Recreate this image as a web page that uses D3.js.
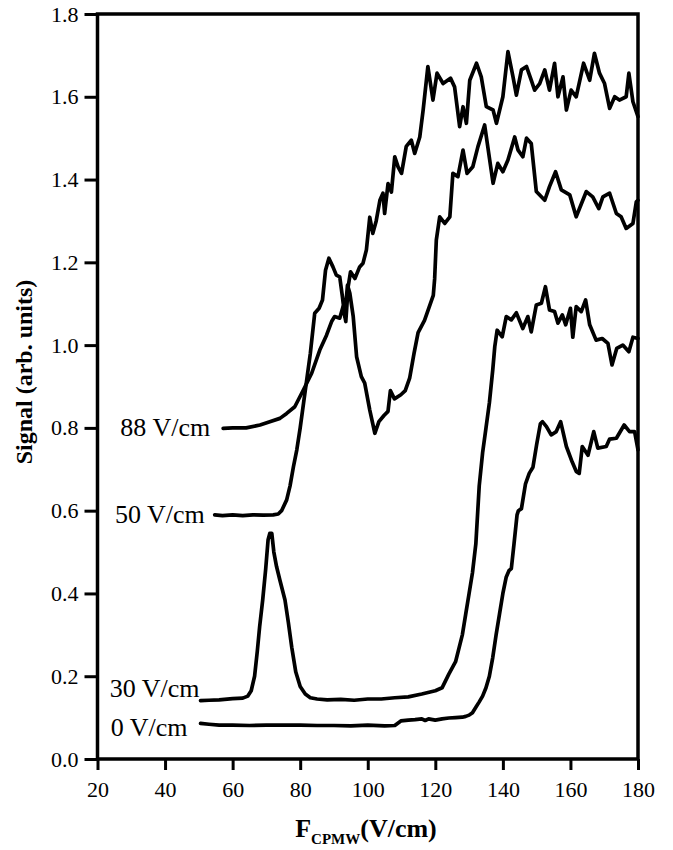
<!DOCTYPE html>
<html>
<head>
<meta charset="utf-8">
<script src="https://cdn.jsdelivr.net/npm/d3@7"></script>
<style>
  body { margin: 0; background: #fff; }
  svg { display: block; }
</style>
</head>
<body>
<svg id="chart" width="673" height="850"></svg>
<script>
// ---------------- data ----------------
const xTicks = [20, 40, 60, 80, 100, 120, 140, 160, 180];
const yTicks = [0.0, 0.2, 0.4, 0.6, 0.8, 1.0, 1.2, 1.4, 1.6, 1.8];
const seriesNames = ["0 V/cm", "30 V/cm", "50 V/cm", "88 V/cm"];

const s0 = [[50.5,0.086],[53,0.084],[56,0.082],[60,0.082],[65,0.081],[70,0.082],[75,0.082],[80,0.082],[85,0.081],[90,0.081],[95,0.080],[100,0.082],[105,0.080],[108,0.081],[109.8,0.092],[112,0.094],[114,0.095],[116,0.097],[117,0.093],[118,0.097],[120,0.094],[122,0.097],[124,0.099],[126,0.100],[128,0.101],[129,0.103],[130,0.106],[131,0.112],[132,0.125],[133,0.138],[134,0.152],[135,0.172],[136,0.200],[137,0.245],[138,0.300],[139,0.350],[140,0.400],[141,0.440],[141.8,0.455],[142.5,0.460],[143.3,0.520],[144.2,0.590],[144.6,0.600],[145.5,0.605],[146.7,0.665],[147.8,0.690],[148.9,0.705],[150,0.760],[151.1,0.810],[151.7,0.815],[152.9,0.803],[154.3,0.783],[155.8,0.791],[157.1,0.815],[158.8,0.755],[160.5,0.718],[161.7,0.695],[162.6,0.690],[163.5,0.755],[165.2,0.734],[166.9,0.791],[168.1,0.751],[170.6,0.755],[171.6,0.773],[173.6,0.775],[175.9,0.807],[177.5,0.791],[179,0.791],[180,0.747]];

const s30 = [[50.5,0.141],[53,0.142],[56,0.143],[60,0.146],[63,0.147],[64.5,0.152],[65.5,0.165],[66.5,0.200],[67.3,0.260],[68,0.320],[68.9,0.384],[69.8,0.460],[70.5,0.530],[71.0,0.545],[71.6,0.545],[72.2,0.500],[73,0.465],[74,0.432],[75.5,0.384],[76.5,0.330],[77.5,0.270],[78.7,0.210],[80,0.175],[81.5,0.157],[83,0.148],[85,0.145],[88,0.143],[92,0.144],[96,0.142],[100,0.145],[104,0.145],[108,0.148],[112,0.150],[116,0.157],[120,0.165],[122,0.172],[124,0.205],[126,0.235],[128,0.300],[129,0.350],[130,0.400],[131,0.450],[132,0.520],[133,0.660],[134,0.740],[135,0.800],[136,0.860],[137,0.940],[137.6,0.996],[138.3,1.036],[139.8,1.020],[141,1.069],[142.5,1.061],[144,1.078],[145.9,1.040],[147.4,1.069],[148.4,1.032],[149.9,1.097],[151.4,1.101],[152.6,1.141],[153.8,1.085],[155.3,1.081],[156.3,1.053],[157.6,1.073],[158.6,1.049],[160,1.089],[160.7,1.019],[161.7,1.093],[163.2,1.081],[164.5,1.109],[165.7,1.049],[167.6,1.012],[169.4,1.016],[171.1,1.004],[172.3,0.952],[173.7,0.992],[175.5,1.000],[177.3,0.984],[178.5,1.019],[180,1.016]];

const s50 = [[54.7,0.590],[57,0.588],[60,0.590],[63,0.588],[66,0.590],[69,0.589],[72,0.590],[73.5,0.592],[74.5,0.600],[76,0.626],[77,0.660],[78,0.706],[79,0.747],[80,0.800],[81,0.860],[82,0.920],[83,0.980],[84.3,1.077],[85.6,1.089],[86.6,1.109],[87.5,1.181],[88.5,1.210],[89.7,1.189],[90.7,1.169],[91.7,1.165],[92.5,1.117],[93.2,1.069],[94,1.145],[94.7,1.125],[95.7,1.069],[96.7,0.972],[98.1,0.924],[99.1,0.908],[100.6,0.843],[102.1,0.787],[103.3,0.815],[104.8,0.830],[106,0.840],[106.7,0.890],[107.9,0.870],[109.8,0.880],[111.1,0.890],[112.4,0.920],[113.7,0.980],[114.9,1.030],[116.8,1.060],[118.1,1.090],[119.4,1.120],[119.8,1.160],[120.3,1.254],[121.3,1.310],[122.8,1.294],[124.3,1.310],[125.2,1.415],[126.7,1.407],[128.2,1.471],[129.4,1.415],[131.1,1.431],[132.6,1.479],[134.6,1.532],[137.1,1.391],[138.5,1.439],[140,1.419],[141.5,1.447],[143.5,1.503],[144.5,1.471],[145.9,1.455],[147,1.500],[148.4,1.487],[149.9,1.371],[152.4,1.350],[153.8,1.383],[155.6,1.419],[157.3,1.375],[159.8,1.363],[161.7,1.310],[164.7,1.371],[166.6,1.358],[168.4,1.330],[169.6,1.358],[171.6,1.367],[173.6,1.318],[175,1.310],[176.5,1.282],[178.5,1.294],[179.5,1.346],[180,1.350]];

const s88 = [[57.2,0.799],[60,0.800],[64,0.800],[68.1,0.807],[71,0.815],[74,0.823],[76,0.835],[78.4,0.851],[80.9,0.891],[83.4,0.932],[85.8,0.988],[87.8,1.024],[89.3,1.057],[90.2,1.069],[91.7,1.065],[92.7,1.093],[93.5,1.057],[94.2,1.141],[94.9,1.177],[96.2,1.161],[97.6,1.189],[98.6,1.198],[99.6,1.230],[100.6,1.309],[101.5,1.270],[102.5,1.300],[103.6,1.350],[104.5,1.367],[105,1.318],[106,1.390],[107,1.370],[108,1.455],[109,1.430],[110,1.415],[111.4,1.480],[112.9,1.495],[113.9,1.463],[115.4,1.503],[116.4,1.568],[117.8,1.673],[119.3,1.592],[120.5,1.657],[122.3,1.632],[124.5,1.645],[125.7,1.624],[127.2,1.528],[128.2,1.576],[129.2,1.536],[130.2,1.640],[132.2,1.681],[133.6,1.648],[135.1,1.576],[137.1,1.568],[138.1,1.536],[140,1.600],[141.5,1.709],[143,1.648],[144,1.604],[145.5,1.665],[147,1.673],[148.4,1.640],[149.4,1.616],[150.9,1.632],[152.4,1.665],[153.8,1.616],[155.3,1.681],[156.3,1.600],[157.8,1.648],[158.8,1.568],[160.2,1.616],[161.7,1.600],[163.9,1.681],[165.7,1.640],[167.1,1.705],[168.6,1.657],[170.1,1.632],[171.6,1.572],[173.1,1.600],[174.5,1.592],[176.5,1.600],[177.3,1.657],[178.5,1.588],[180,1.552]];

const seriesData = [s0, s30, s50, s88];

// ---------------- layout ----------------
const svg = d3.select("#chart");
const plot = { left: 97.5, right: 638, top: 14, bottom: 759 };
const serif = "'Liberation Serif', 'Times New Roman', Times, serif";

const x = d3.scaleLinear().domain([20, 180]).range([plot.left, plot.right]);
const y = d3.scaleLinear().domain([0, 1.8]).range([plot.bottom, plot.top]);

// axes
const xAxis = d3.axisBottom(x).tickValues(xTicks).tickFormat(d3.format("d"))
  .tickSize(11).tickSizeOuter(0).tickPadding(11);
const yAxis = d3.axisLeft(y).tickValues(yTicks).tickFormat(d3.format(".1f"))
  .tickSize(13).tickSizeOuter(0).tickPadding(6);

const gx = svg.append("g").attr("transform", `translate(0,${plot.bottom})`).call(xAxis);
const gy = svg.append("g").attr("transform", `translate(${plot.left},0)`).call(yAxis);
[gx, gy].forEach(g => {
  g.select(".domain").remove();
  g.selectAll(".tick line").attr("stroke", "#000").attr("stroke-width", 3);
  g.selectAll(".tick text").attr("fill", "#000")
    .style("font-family", serif).style("font-size", "22px");
});

// frame
svg.append("rect")
  .attr("x", plot.left).attr("y", plot.top)
  .attr("width", plot.right - plot.left).attr("height", plot.bottom - plot.top)
  .attr("fill", "none").attr("stroke", "#000").attr("stroke-width", 3.5);

// lines
const line = d3.line().x(d => x(d[0])).y(d => y(d[1]));
svg.append("g").selectAll("path").data(seriesData).join("path")
  .attr("d", line)
  .attr("fill", "none").attr("stroke", "#000")
  .attr("stroke-width", 3.7).attr("stroke-linejoin", "round").attr("stroke-linecap", "round");

// series labels (placed left of each curve's first point)
const labelOffsets = [[-13, 13], [-1, -4], [-10, 8], [-13, 8]];
svg.append("g").selectAll("text").data(seriesData).join("text")
  .attr("x", (d, i) => x(d[0][0]) + labelOffsets[i][0])
  .attr("y", (d, i) => y(d[0][1]) + labelOffsets[i][1])
  .attr("text-anchor", "end")
  .style("font-family", serif).style("font-size", "26px")
  .text((d, i) => seriesNames[i]);

// axis titles
svg.append("text")
  .attr("transform", `translate(32,372) rotate(-90)`)
  .attr("text-anchor", "middle")
  .style("font-family", serif).style("font-size", "24px").style("font-weight", "bold")
  .text("Signal (arb. units)");

const xt = svg.append("text")
  .attr("x", 366).attr("y", 837)
  .attr("text-anchor", "middle")
  .style("font-family", serif).style("font-weight", "bold");
xt.append("tspan").style("font-size", "26px").text("F");
xt.append("tspan").style("font-size", "15px").attr("dy", 7).text("CPMW");
xt.append("tspan").style("font-size", "26px").attr("dy", -7).text("(V/cm)");
</script>
</body>
</html>
